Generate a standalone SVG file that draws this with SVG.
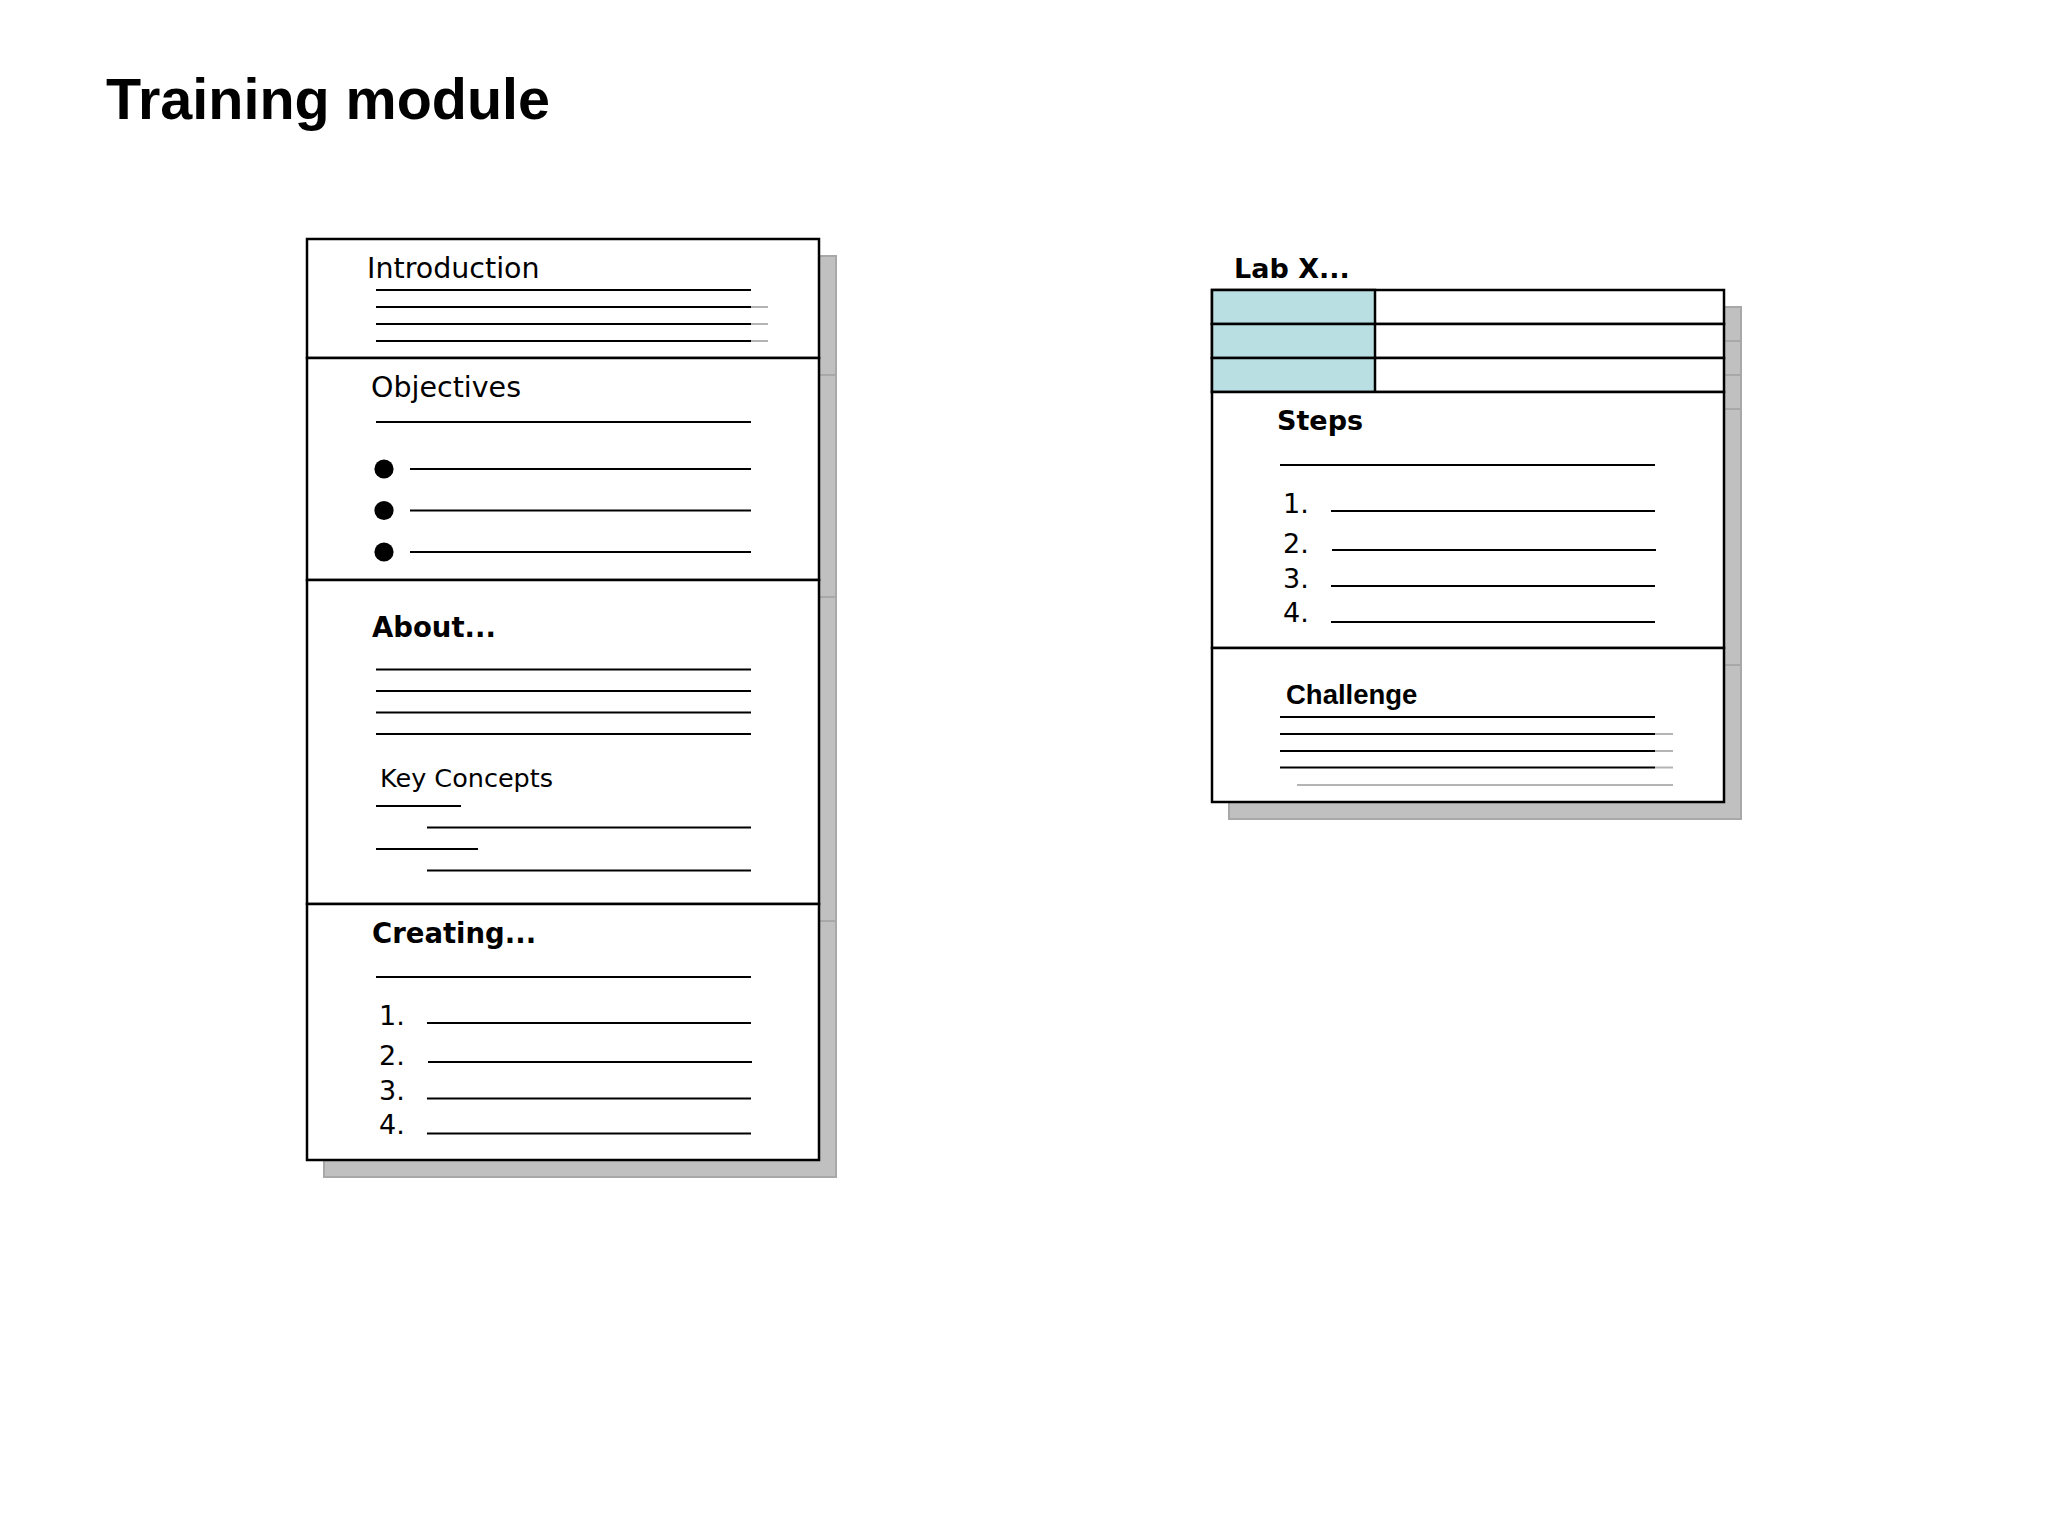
<svg xmlns="http://www.w3.org/2000/svg" width="2048" height="1536" viewBox="0 0 2048 1536">
<style>
.bg{fill:#ffffff}
.sh{fill:#c0c0c0;stroke:#a8a8a8;stroke-width:2}
.box{fill:#ffffff;stroke:#000000;stroke-width:2.5}
.cell{fill:#b9dfe3;stroke:#000000;stroke-width:2.5}
.ln{stroke:#000000;stroke-width:2.2;fill:none}
.gl{stroke:#b4b4b4;stroke-width:2;fill:none}
.v{font-family:"DejaVu Sans",Verdana,sans-serif;fill:#000}
.vb{font-family:"DejaVu Sans",Verdana,sans-serif;font-weight:bold;fill:#000}
.a{font-family:"Liberation Sans",Arial,sans-serif;font-weight:bold;fill:#000}
</style>
<rect class="bg" x="0" y="0" width="2048" height="1536"/>
<text class="a" x="106" y="119" font-size="57.5">Training module</text>

<g id="training-card">
  <g id="training-shadow">
    <rect class="sh" x="324" y="256" width="512" height="119"/>
    <rect class="sh" x="324" y="375" width="512" height="222"/>
    <rect class="sh" x="324" y="597" width="512" height="324"/>
    <rect class="sh" x="324" y="921" width="512" height="256"/>
  </g>
  <g id="introduction">
    <rect class="box" x="307" y="239" width="512" height="119"/>
    <text class="v" x="367" y="278" font-size="28.5">Introduction</text>
    <line class="gl" x1="750" y1="307" x2="768" y2="307"/>
    <line class="gl" x1="750" y1="324" x2="768" y2="324"/>
    <line class="gl" x1="750" y1="341" x2="768" y2="341"/>
    <line class="ln" x1="376" y1="290" x2="751" y2="290"/>
    <line class="ln" x1="376" y1="307" x2="751" y2="307"/>
    <line class="ln" x1="376" y1="324" x2="751" y2="324"/>
    <line class="ln" x1="376" y1="341" x2="751" y2="341"/>
  </g>
  <g id="objectives">
    <rect class="box" x="307" y="358" width="512" height="222"/>
    <text class="v" x="371" y="397" font-size="28.5">Objectives</text>
    <line class="ln" x1="376" y1="422" x2="751" y2="422"/>
    <circle cx="384" cy="469" r="9.6"/>
    <circle cx="384" cy="510.5" r="9.6"/>
    <circle cx="384" cy="552" r="9.6"/>
    <line class="ln" x1="410" y1="469" x2="751" y2="469"/>
    <line class="ln" x1="410" y1="510.5" x2="751" y2="510.5"/>
    <line class="ln" x1="410" y1="552" x2="751" y2="552"/>
  </g>
  <g id="about">
    <rect class="box" x="307" y="580" width="512" height="324"/>
    <text class="vb" x="372" y="637" font-size="27.5">About...</text>
    <line class="ln" x1="376" y1="669.5" x2="751" y2="669.5"/>
    <line class="ln" x1="376" y1="691" x2="751" y2="691"/>
    <line class="ln" x1="376" y1="712.5" x2="751" y2="712.5"/>
    <line class="ln" x1="376" y1="734" x2="751" y2="734"/>
    <text class="v" x="380" y="787" font-size="25.5">Key Concepts</text>
    <line class="ln" x1="376" y1="806" x2="461" y2="806"/>
    <line class="ln" x1="427" y1="827.5" x2="751" y2="827.5"/>
    <line class="ln" x1="376" y1="849" x2="478" y2="849"/>
    <line class="ln" x1="427" y1="870.5" x2="751" y2="870.5"/>
  </g>
  <g id="creating">
    <rect class="box" x="307" y="904" width="512" height="256"/>
    <text class="vb" x="372" y="943" font-size="27.5">Creating...</text>
    <line class="ln" x1="376" y1="977" x2="751" y2="977"/>
    <text class="v" x="379" y="1025" font-size="27">1.</text>
    <line class="ln" x1="427" y1="1023" x2="751" y2="1023"/>
    <text class="v" x="379" y="1065" font-size="27">2.</text>
    <line class="ln" x1="428" y1="1062" x2="752" y2="1062"/>
    <text class="v" x="379" y="1100" font-size="27">3.</text>
    <line class="ln" x1="427" y1="1098.5" x2="751" y2="1098.5"/>
    <text class="v" x="379" y="1133.5" font-size="27">4.</text>
    <line class="ln" x1="427" y1="1133.5" x2="751" y2="1133.5"/>
  </g>
</g>

<g id="lab-card">
  <text class="vb" x="1234" y="278" font-size="27">Lab X...</text>
  <g id="lab-shadow">
    <rect class="sh" x="1229" y="307" width="512" height="34"/>
    <rect class="sh" x="1229" y="341" width="512" height="34"/>
    <rect class="sh" x="1229" y="375" width="512" height="34"/>
    <rect class="sh" x="1229" y="409" width="512" height="256"/>
    <rect class="sh" x="1229" y="665" width="512" height="154"/>
  </g>
  <g id="lab-table">
    <rect class="box" x="1212" y="290" width="512" height="34"/>
    <rect class="box" x="1212" y="324" width="512" height="34"/>
    <rect class="box" x="1212" y="358" width="512" height="34"/>
    <rect class="cell" x="1212" y="290" width="163" height="34"/>
    <rect class="cell" x="1212" y="324" width="163" height="34"/>
    <rect class="cell" x="1212" y="358" width="163" height="34"/>
  </g>
  <g id="steps">
    <rect class="box" x="1212" y="392" width="512" height="256"/>
    <text class="vb" x="1277" y="430" font-size="27">Steps</text>
    <line class="ln" x1="1280" y1="465" x2="1655" y2="465"/>
    <text class="v" x="1283" y="512.5" font-size="27">1.</text>
    <line class="ln" x1="1331" y1="511" x2="1655" y2="511"/>
    <text class="v" x="1283" y="552.5" font-size="27">2.</text>
    <line class="ln" x1="1332" y1="550" x2="1656" y2="550"/>
    <text class="v" x="1283" y="587.5" font-size="27">3.</text>
    <line class="ln" x1="1331" y1="586" x2="1655" y2="586"/>
    <text class="v" x="1283" y="622" font-size="27">4.</text>
    <line class="ln" x1="1331" y1="622" x2="1655" y2="622"/>
  </g>
  <g id="challenge">
    <rect class="box" x="1212" y="648" width="512" height="154"/>
    <text class="a" x="1286" y="704" font-size="27.5">Challenge</text>
    <line class="gl" x1="1655" y1="734" x2="1673" y2="734"/>
    <line class="gl" x1="1655" y1="751" x2="1673" y2="751"/>
    <line class="gl" x1="1655" y1="767.5" x2="1673" y2="767.5"/>
    <line class="gl" x1="1297" y1="785" x2="1673" y2="785"/>
    <line class="ln" x1="1280" y1="717" x2="1655" y2="717"/>
    <line class="ln" x1="1280" y1="734" x2="1655" y2="734"/>
    <line class="ln" x1="1280" y1="751" x2="1655" y2="751"/>
    <line class="ln" x1="1280" y1="767.5" x2="1655" y2="767.5"/>
  </g>
</g>
<g id="connectors"/>
</svg>
